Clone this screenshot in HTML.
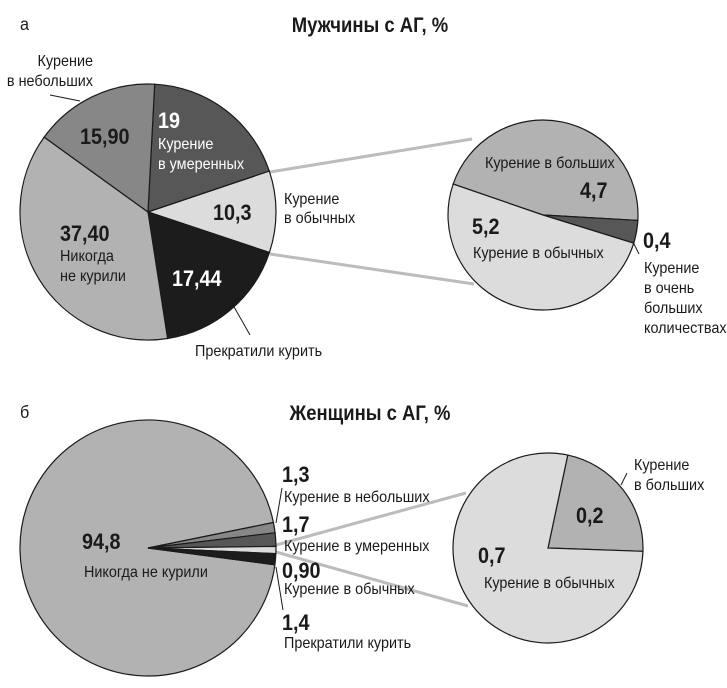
<!DOCTYPE html>
<html><head><meta charset="utf-8"><style>
html,body{margin:0;padding:0;background:#fff}
svg{display:block}
text{font-family:"Liberation Sans Narrow","Liberation Sans","DejaVu Sans",sans-serif;fill:#1a1a1a}
.t{font-size:21px;font-weight:bold}
.n{font-size:22px;font-weight:bold}
.l{font-size:16px}
.w{fill:#fff}
</style></head><body>
<svg id="chart" width="727" height="688" viewBox="0 0 727 688" xmlns="http://www.w3.org/2000/svg">
<g id="connectors">
<line x1="270" y1="172" x2="472" y2="139" stroke="#bcbcbc" stroke-width="3"/>
<line x1="270" y1="254" x2="474" y2="284" stroke="#bcbcbc" stroke-width="3"/>
<line x1="276" y1="545" x2="466" y2="493" stroke="#bcbcbc" stroke-width="3"/>
<line x1="276" y1="552" x2="468" y2="606" stroke="#bcbcbc" stroke-width="3"/>
</g>
<g id="pies"></g>
<g id="labels">
<text x="20" y="30" style="font-size:18px">а</text>
<text x="370" y="32" text-anchor="middle" class="t">Мужчины с АГ, %</text>
<text x="20" y="418" style="font-size:18px">б</text>
<text x="370" y="420" text-anchor="middle" class="t">Женщины с АГ, %</text>

<text x="93" y="66" text-anchor="end" class="l">Курение</text>
<text x="93" y="86" text-anchor="end" class="l">в небольших</text>
<line x1="50" y1="95" x2="80" y2="101" stroke="#1a1a1a"/>
<text x="80" y="144" class="n">15,90</text>
<text x="158" y="128" class="n w">19</text>
<text x="158" y="149" class="l w">Курение</text>
<text x="158" y="169" class="l w">в умеренных</text>
<text x="213" y="220" class="n">10,3</text>
<text x="284" y="204" class="l">Курение</text>
<text x="284" y="223" class="l">в обычных</text>
<text x="60" y="241" class="n">37,40</text>
<text x="60" y="261" class="l">Никогда</text>
<text x="60" y="281" class="l">не курили</text>
<text x="172" y="286" class="n w">17,44</text>
<line x1="233" y1="305" x2="250" y2="335" stroke="#1a1a1a"/>
<text x="195" y="356" class="l">Прекратили курить</text>

<text x="485" y="168" class="l">Курение в больших</text>
<text x="580" y="198" class="n">4,7</text>
<text x="472" y="234" class="n">5,2</text>
<text x="473" y="258" class="l">Курение в обычных</text>
<text x="643" y="248" class="n">0,4</text>
<line x1="633" y1="242" x2="639" y2="254" stroke="#1a1a1a"/>
<text x="644" y="273" class="l">Курение</text>
<text x="644" y="293" class="l">в очень</text>
<text x="644" y="313" class="l">больших</text>
<text x="644" y="333" class="l">количествах</text>

<text x="82" y="549" class="n">94,8</text>
<text x="84" y="577" class="l">Никогда не курили</text>
<text x="282" y="482" class="n">1,3</text>
<text x="284" y="502" class="l">Курение в небольших</text>
<line x1="282" y1="488" x2="276" y2="523" stroke="#1a1a1a"/>
<text x="282" y="532" class="n">1,7</text>
<text x="284" y="551" class="l">Курение в умеренных</text>
<text x="282" y="578" class="n">0,90</text>
<text x="284" y="594" class="l">Курение в обычных</text>
<line x1="276" y1="567" x2="283" y2="610" stroke="#1a1a1a"/>
<text x="282" y="630" class="n">1,4</text>
<text x="284" y="648" class="l">Прекратили курить</text>

<text x="634" y="470" class="l">Курение</text>
<text x="634" y="490" class="l">в больших</text>
<line x1="627" y1="473" x2="621" y2="485" stroke="#1a1a1a"/>
<text x="576" y="523" class="n">0,2</text>
<text x="478" y="563" class="n">0,7</text>
<text x="484" y="588" class="l">Курение в обычных</text>
</g>
</svg>
<script>
const menCategories = ["moderate","regular","quit","never","small"];
const menValues = [19, 10.3, 17.44, 37.40, 15.90];
const menSubCategories = ["large","very-large","regular"];
const menSubValues = [4.7, 0.4, 5.2];
const womenCategories = ["never","small","moderate","regular","quit"];
const womenValues = [94.8, 1.3, 1.7, 0.9, 1.4];
const womenSubCategories = ["large","regular"];
const womenSubValues = [0.2, 0.7];

const colorMap = {moderate:"#575757", regular:"#dcdcdc", quit:"#1c1c1c", never:"#b2b2b2", small:"#878787", large:"#b2b2b2", "very-large":"#575757"};
const NS = "http://www.w3.org/2000/svg";
const pies = document.getElementById("pies");

function pie(name, cats, vals, cx, cy, r, startDeg) {
  const g = document.createElementNS(NS, "g");
  
  
  const total = vals.reduce((a, b) => a + b, 0);
  let a = startDeg * Math.PI / 180;
  vals.forEach((v, i) => {
    const span = v / total * 2 * Math.PI;
    const a2 = a + span;
    const x1 = cx + r * Math.sin(a), y1 = cy - r * Math.cos(a);
    const x2 = cx + r * Math.sin(a2), y2 = cy - r * Math.cos(a2);
    const p = document.createElementNS(NS, "path");
    p.setAttribute("d", `M${cx},${cy} L${x1},${y1} A${r},${r} 0 ${span > Math.PI ? 1 : 0} 1 ${x2},${y2} Z`);
    p.setAttribute("fill", colorMap[cats[i]]);
    p.setAttribute("stroke", "#1a1a1a");
    p.setAttribute("stroke-width", "1.2");
    
    
    g.appendChild(p);
    a = a2;
  });
  pies.appendChild(g);
}
pie("pie-men", menCategories, menValues, 148, 212, 128, 3);
pie("pie-men-detail", menSubCategories, menSubValues, 543, 215, 95, -71);
pie("pie-women", womenCategories, womenValues, 148, 548, 128, 78.5 - 94.8 / 100.1 * 360);
pie("pie-women-detail", womenSubCategories, womenSubValues, 548, 548, 95, 12);

// condense text horizontally to mimic a condensed typeface
document.querySelectorAll("#labels text").forEach(t => {
  const x = parseFloat(t.getAttribute("x"));
  const s = t.classList.contains("l") ? 0.9 : (t.classList.contains("t") ? 0.88 : 0.9);
  t.setAttribute("transform", `translate(${x},0) scale(${s},1) translate(${-x},0)`);
});
</script>
</body></html>
